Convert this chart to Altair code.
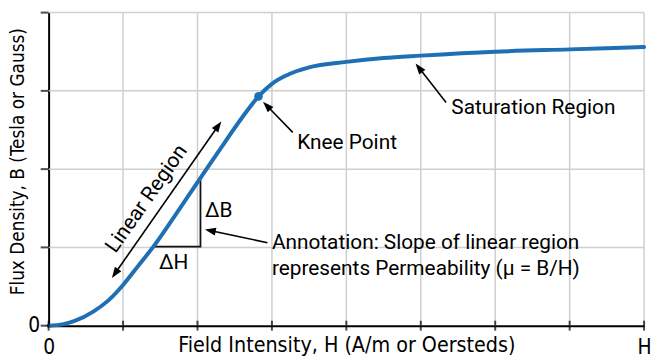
import math
import altair as alt
import pandas as pd

# ---------------- data ----------------
W, H = 601, 316          # plot area (px)
X_MAX, Y_MAX = 8, 4      # axis domains

curve_h = [0, 0.2, 0.35, 0.6, 0.8, 1.0, 1.2, 1.4, 1.7, 2.0, 2.3, 2.6, 2.82, 3.0, 3.2, 3.5, 4.0, 4.5, 5.0, 6.0, 7.0, 8.0]
curve_b = [0, 0.02, 0.06, 0.18, 0.32, 0.52, 0.76, 1.00, 1.41, 1.83, 2.25, 2.66, 2.93, 3.09, 3.20, 3.30, 3.37, 3.42, 3.45, 3.50, 3.53, 3.56]

knee_h = [2.82]
knee_b = [2.93]

x_ticks = [0, 1, 2, 3, 4, 5, 6, 7, 8]
y_ticks = [0, 1, 2, 3, 4]
x_tick_labels = ["0", "H"]       # shown at first and last tick
y_tick_labels = ["0"]            # shown at first tick

tri_h = [1.41, 2.04, 2.04]
tri_b = [1.01, 1.01, 1.87]

arrow_name = ["linear", "knee", "saturation", "slope"]
arrow_h0 = [0.85, 3.28, 5.34, 2.94]
arrow_b0 = [0.61, 2.47, 2.85, 1.06]
arrow_h1 = [2.32, 2.88, 4.93, 2.10]
arrow_b1 = [2.61, 2.86, 3.35, 1.23]
arrow_double = [True, False, False, False]

label_text = ["Knee Point", "Saturation Region",
              "Annotation: Slope of linear region",
              "represents Permeability (\u03bc = B/H)", "\u0394B", "\u0394H"]
label_h = [3.34, 5.41, 3.0, 3.0, 2.10, 1.68]
label_b = [2.33, 2.78, 1.06, 0.72, 1.46, 0.80]
label_align = ["left", "left", "left", "left", "left", "center"]

rot_text = ["Linear Region"]
rot_h = [1.32]
rot_b = [1.62]
rot_angle = [305]

# ---------------- styles ----------------
BLUE = "#1f6fb4"
GRID = "#cfcfcf"
AX_FONT = "Liberation Sans Narrow, Arial Narrow, DejaVu Sans Condensed, sans-serif"
TX_FONT = "Roboto"
TX_SIZE = 21
HEAD_LEN = 11
HEAD_PATH = "M0,0L0.36,1L-0.36,1Z"

px_x = W / X_MAX
px_y = H / Y_MAX

# ---------------- tables ----------------
curve_df = pd.DataFrame({"h": curve_h, "b": curve_b})
knee_df = pd.DataFrame({"h": knee_h, "b": knee_b})
tri_df = pd.DataFrame({"h": tri_h, "b": tri_b, "o": list(range(len(tri_h)))})
xt_df = pd.DataFrame({"h": x_ticks})
yt_df = pd.DataFrame({"b": y_ticks})

grid_rows = []
for v in x_ticks[1:]:
    grid_rows.append({"gid": f"v{v}", "o": 0, "h": float(v), "b": float(y_ticks[0])})
    grid_rows.append({"gid": f"v{v}", "o": 1, "h": float(v), "b": float(y_ticks[-1])})
for v in y_ticks[1:]:
    grid_rows.append({"gid": f"h{v}", "o": 0, "h": float(x_ticks[0]), "b": float(v)})
    grid_rows.append({"gid": f"h{v}", "o": 1, "h": float(x_ticks[-1]), "b": float(v)})
grid_df = pd.DataFrame(grid_rows)

shafts, heads = [], []
for n, h0, b0, h1, b1, dbl in zip(arrow_name, arrow_h0, arrow_b0, arrow_h1, arrow_b1, arrow_double):
    dx = (h1 - h0) * px_x
    dy = -(b1 - b0) * px_y
    L = math.hypot(dx, dy)
    ux, uy = dx / L, dy / L
    cut = HEAD_LEN * 0.8
    e_h = h1 - ux * cut / px_x
    e_b = b1 + uy * cut / px_y
    s_h, s_b = h0, b0
    ang = math.degrees(math.atan2(dx, -dy)) % 360
    heads.append({"h": h1, "b": b1, "ang": ang})
    if dbl:
        s_h = h0 + ux * cut / px_x
        s_b = b0 - uy * cut / px_y
        heads.append({"h": h0, "b": b0, "ang": (ang + 180) % 360})
    shafts.append({"h0": s_h, "b0": s_b, "h1": e_h, "b1": e_b})
shaft_df = pd.DataFrame(shafts)
head_df = pd.DataFrame(heads)

label_df = pd.DataFrame({"t": label_text, "h": label_h, "b": label_b, "al": label_align})
rot_df = pd.DataFrame({"t": rot_text, "h": rot_h, "b": rot_b, "a": rot_angle})

# ---------------- scales / axes ----------------
xs = alt.Scale(domain=[0, X_MAX], nice=False, zero=False)
ys = alt.Scale(domain=[0, Y_MAX], nice=False, zero=False)

x_axis = alt.Axis(values=[x_ticks[0], x_ticks[-1]],
                  labelExpr=f"datum.value == 0 ? '{x_tick_labels[0]}' : '{x_tick_labels[1]}'",
                  ticks=False, tickSize=0, labelFlush=False, labelOverlap=False,
                  domainColor="black", domainWidth=2, grid=False,
                  labelFont=AX_FONT, labelFontSize=21, labelColor="black", labelPadding=11,
                  title="Field Intensity, H (A/m or Oersteds)",
                  titleFont=AX_FONT, titleFontSize=21.5, titleFontWeight="normal",
                  titleColor="black", titlePadding=-23)
y_axis = alt.Axis(values=[y_ticks[0]],
                  labelExpr=f"'{y_tick_labels[0]}'",
                  ticks=False, tickSize=0, labelFlush=False, labelOverlap=False,
                  domainColor="black", domainWidth=2, grid=False,
                  labelFont=AX_FONT, labelFontSize=21, labelColor="black", labelPadding=9,
                  title="Flux Density, B (Tesla or Gauss)",
                  titleFont=AX_FONT, titleFontSize=19, titleFontWeight="normal",
                  titleColor="black", titlePadding=0, titleY=150)

X = lambda f: alt.X(f, type="quantitative", scale=xs, axis=x_axis)
Y = lambda f: alt.Y(f, type="quantitative", scale=ys, axis=y_axis)

# grid lines as line segments built from the tick arrays
grid = alt.Chart(grid_df).mark_line(color=GRID, strokeWidth=1.5, opacity=1).encode(
    x=X("h"), y=Y("b"), detail="gid:N", order="o:Q")

curve = alt.Chart(curve_df).mark_line(color=BLUE, strokeWidth=4, interpolate="monotone",
                                      strokeCap="round").encode(x=X("h"), y=Y("b"))

knee = alt.Chart(knee_df).mark_circle(color=BLUE, size=75, opacity=1).encode(x=X("h"), y=Y("b"))

tri = alt.Chart(tri_df).mark_line(color="#111111", strokeWidth=1.8).encode(
    x=X("h"), y=Y("b"), order="o:Q")

xticks = alt.Chart(xt_df).mark_tick(orient="vertical", size=10, thickness=2, color="black").encode(
    x=X("h"), y=alt.datum(0))
yticks = alt.Chart(yt_df).mark_tick(orient="horizontal", size=8, thickness=2, color="black",
                                    xOffset=-4).encode(y=Y("b"), x=alt.datum(0))

shaft = alt.Chart(shaft_df).mark_rule(color="black", strokeWidth=1.6).encode(
    x=X("h0"), y=Y("b0"), x2="h1:Q", y2="b1:Q")

head = alt.Chart(head_df).mark_point(shape=HEAD_PATH, filled=True, size=(2 * HEAD_LEN) ** 2,
                                     color="black", opacity=1, strokeWidth=0).encode(
    x=X("h"), y=Y("b"), angle=alt.Angle("ang:Q", scale=None))

labels_l = alt.Chart(label_df).transform_filter("datum.al == 'left'").mark_text(
    align="left", baseline="middle", font=TX_FONT, fontSize=TX_SIZE, color="black").encode(
    x=X("h"), y=Y("b"), text="t:N")
labels_c = alt.Chart(label_df).transform_filter("datum.al == 'center'").mark_text(
    align="center", baseline="middle", font=TX_FONT, fontSize=TX_SIZE, color="black").encode(
    x=X("h"), y=Y("b"), text="t:N")

rot = alt.Chart(rot_df).mark_text(align="center", baseline="middle", font=TX_FONT,
                                  fontSize=TX_SIZE, color="black", angle=rot_angle[0]).encode(
    x=X("h"), y=Y("b"), text="t:N")

chart = alt.layer(grid, tri, shaft, head, curve, knee, xticks, yticks,
                  labels_l, labels_c, rot).properties(
    width=W, height=H, padding={"left": 0, "top": 0, "right": 0, "bottom": 0},
    background="white"
).configure_view(stroke=None)

chart.save("out.html", embed_options={"renderer": "svg", "actions": False})
